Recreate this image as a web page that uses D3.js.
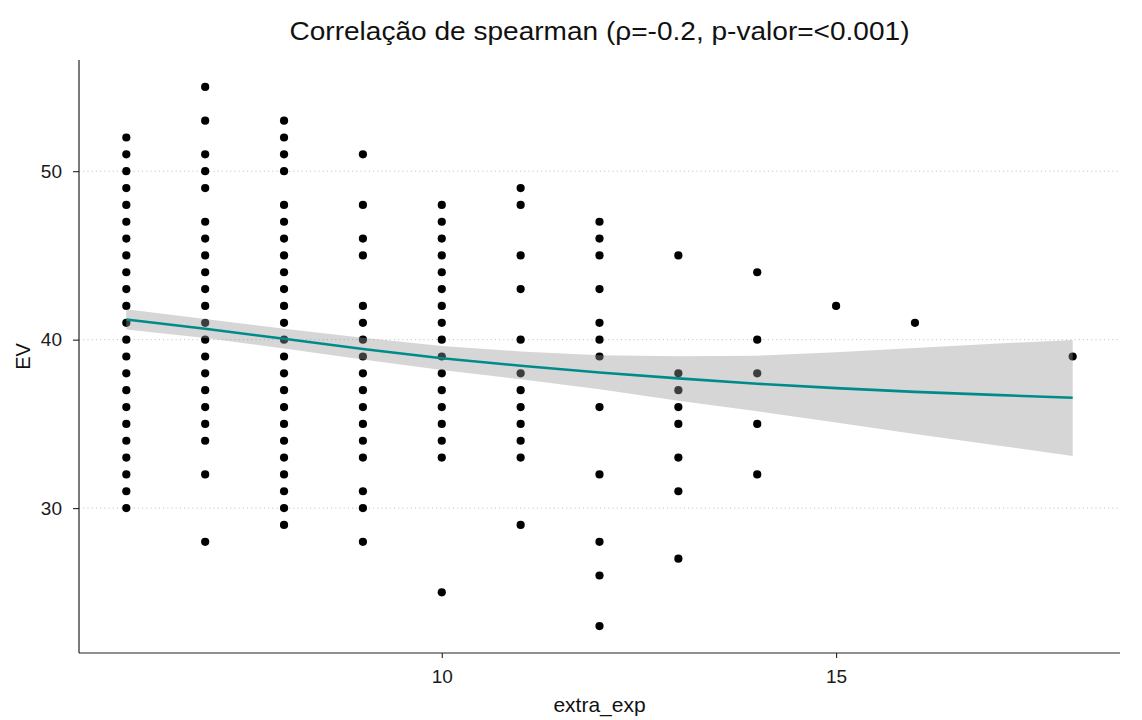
<!DOCTYPE html>
<html>
<head>
<meta charset="utf-8">
<script src="https://cdn.jsdelivr.net/npm/d3@7"></script>
<style>
    body { margin: 0; background: #fff; }
    svg text { font-family: "Liberation Sans", Arial, sans-serif; }
</style>
</head>
<body>
<div id="chart"></div>
<script>
// EV values per extra_exp column
const xCols = [6, 7, 8, 9, 10, 11, 12, 13, 14, 15, 16, 18];
const ev6  = [30,31,32,33,34,35,36,37,38,39,40,41,42,43,44,45,46,47,48,49,50,51,52];
const ev7  = [28,32,34,35,36,37,38,39,40,41,42,43,44,45,46,47,49,50,51,53,55];
const ev8  = [29,30,31,32,33,34,35,36,37,38,39,40,41,42,43,44,45,46,47,48,50,51,52,53];
const ev9  = [28,30,31,33,34,35,36,37,38,39,40,41,42,45,46,48,51];
const ev10 = [25,33,34,35,36,37,38,39,40,41,42,43,44,45,46,47,48];
const ev11 = [29,33,34,35,36,37,38,40,43,45,48,49];
const ev12 = [23,26,28,32,36,39,40,41,43,45,46,47];
const ev13 = [27,31,33,35,36,37,38,45];
const ev14 = [32,35,38,40,44];
const ev15 = [42];
const ev16 = [41];
const ev18 = [39];
const evCols = [ev6, ev7, ev8, ev9, ev10, ev11, ev12, ev13, ev14, ev15, ev16, ev18];

// smooth line and its confidence band
const fitX     = [6, 7, 8, 9, 10, 11, 12, 13, 14, 15, 16, 17, 18];
const fitY     = [41.2, 40.65, 40.05, 39.45, 38.9, 38.45, 38.05, 37.7, 37.38, 37.12, 36.9, 36.72, 36.55];
const fitLower = [40.6, 40.1, 39.47, 38.82, 38.2, 37.65, 37.05, 36.38, 35.75, 35.08, 34.4, 33.75, 33.1];
const fitUpper = [41.8, 41.22, 40.65, 40.12, 39.62, 39.3, 39.08, 39.02, 39.05, 39.25, 39.5, 39.76, 39.98];

const xTicks = [10, 15];
const yTicks = [30, 40, 50];

const points = [];
xCols.forEach((x, i) => evCols[i].forEach(v => points.push({ x: x, y: v })));
const fit = fitX.map((x, i) => ({ x: x, y: fitY[i], lo: fitLower[i], hi: fitUpper[i] }));

const width = 1142, height = 720;
const margin = { top: 60, right: 22, bottom: 67, left: 79 };

const svg = d3.select('#chart')
    .append('svg')
    .attr('width', width)
    .attr('height', height);

// ggplot-style 5% expansion
const xExt = d3.extent(points, d => d.x);
const yExt = d3.extent(points, d => d.y);
const xPad = (xExt[1] - xExt[0]) * 0.05;
const yPad = (yExt[1] - yExt[0]) * 0.05;

const x = d3.scaleLinear()
    .domain([xExt[0] - xPad, xExt[1] + xPad])
    .range([margin.left, width - margin.right]);
const y = d3.scaleLinear()
    .domain([yExt[0] - yPad, yExt[1] + yPad])
    .range([height - margin.bottom, margin.top]);

// horizontal dotted grid
svg.append('g')
    .selectAll('line')
    .data(yTicks)
    .enter()
    .append('line')
    .attr('x1', margin.left)
    .attr('x2', width - margin.right)
    .attr('y1', d => y(d))
    .attr('y2', d => y(d))
    .attr('stroke', '#c4c4c4')
    .attr('stroke-width', 1)
    .attr('stroke-dasharray', '1.2,3');

// points
svg.append('g')
    .selectAll('circle')
    .data(points)
    .enter()
    .append('circle')
    .attr('cx', d => x(d.x))
    .attr('cy', d => y(d.y))
    .attr('r', 4.1)
    .attr('fill', '#000');

// confidence band
svg.append('path')
    .datum(fit)
    .attr('d', d3.area().x(d => x(d.x)).y0(d => y(d.lo)).y1(d => y(d.hi)))
    .attr('fill', '#999999')
    .attr('fill-opacity', 0.4);

// smooth line
svg.append('path')
    .datum(fit)
    .attr('d', d3.line().x(d => x(d.x)).y(d => y(d.y)))
    .attr('fill', 'none')
    .attr('stroke', '#008b8b')
    .attr('stroke-width', 2.6);

// axes
const xAxis = svg.append('g')
    .attr('transform', `translate(0,${height - margin.bottom})`)
    .call(d3.axisBottom(x).tickValues(xTicks).tickSize(5).tickPadding(12).tickSizeOuter(0));
const yAxis = svg.append('g')
    .attr('transform', `translate(${margin.left},0)`)
    .call(d3.axisLeft(y).tickValues(yTicks).tickSize(6).tickPadding(11).tickSizeOuter(0));

[xAxis, yAxis].forEach(g => {
    g.select('.domain').attr('stroke', '#222').attr('stroke-width', 1.2);
    g.selectAll('.tick line').attr('stroke', '#222').attr('stroke-width', 1.1);
    g.selectAll('.tick text')
        .attr('fill', '#1a1a1a')
        .style('font-size', '19px')
        .style('font-family', '"Liberation Sans", Arial, sans-serif');
});
// axis lines span full panel
xAxis.select('.domain').attr('d', `M${margin.left},0H${width - margin.right}`);
yAxis.select('.domain').attr('d', `M0,${margin.top}V${height - margin.bottom}`);

// titles
svg.append('text')
    .attr('x', (margin.left + width - margin.right) / 2)
    .attr('y', 40)
    .attr('text-anchor', 'middle')
    .attr('textLength', 620)
    .attr('lengthAdjust', 'spacingAndGlyphs')
    .style('font-size', '26px')
    .attr('fill', '#111')
    .text('Correlação de spearman (ρ=-0.2, p-valor=<0.001)');

svg.append('text')
    .attr('x', (margin.left + width - margin.right) / 2)
    .attr('y', 712)
    .attr('text-anchor', 'middle')
    .style('font-size', '21px')
    .attr('fill', '#111')
    .text('extra_exp');

svg.append('text')
    .attr('transform', `translate(30,${(margin.top + height - margin.bottom) / 2}) rotate(-90)`)
    .attr('text-anchor', 'middle')
    .style('font-size', '20px')
    .attr('fill', '#111')
    .text('EV');
</script>
</body>
</html>
